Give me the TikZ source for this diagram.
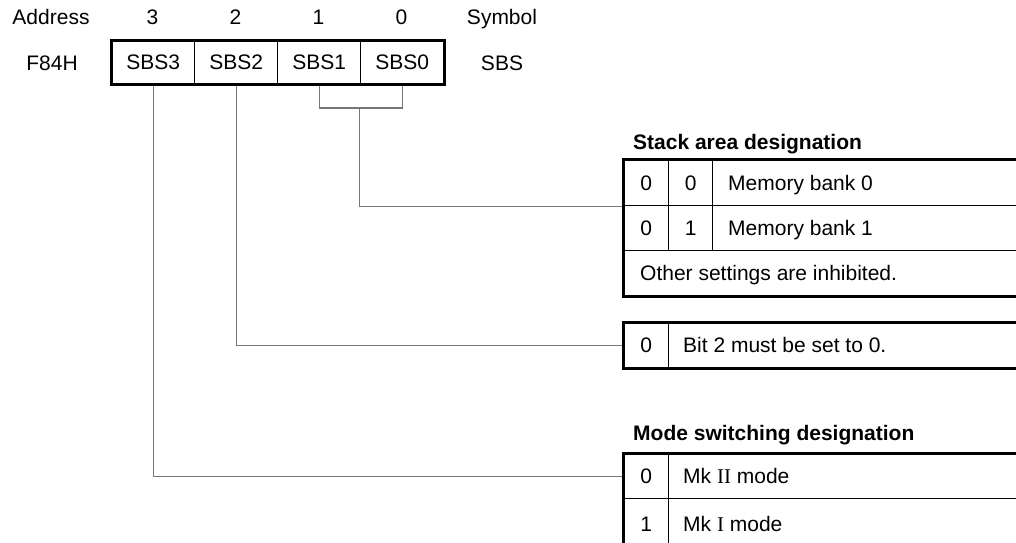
\documentclass[tikz,border=0pt]{standalone}
\usepackage{fontspec}
\setmainfont{Liberation Sans}
\newfontfamily\romanfont{Liberation Serif}
\definecolor{conncol}{RGB}{118,118,118}
\tikzset{
  txt/.style={font=\fontsize{21}{25}\selectfont, inner sep=0pt, text height=15pt, text depth=0pt},
  ttl/.style={txt, font=\fontsize{21}{25}\selectfont\bfseries, anchor=west},
  lft/.style={txt, anchor=west},
  cell/.style={draw=black, line width=1.3pt, inner sep=0pt, anchor=north west, minimum width=#1},
  outerline/.style={draw=black, line width=3pt},
  conn/.style={draw=conncol, line width=1.3pt}
}
\begin{document}
\begin{tikzpicture}[x=1pt, y=-1pt]
\useasboundingbox (0,0) rectangle (1016,542);
\clip (0,0) rectangle (1016,542);
% header
\node[txt] (addr) at (51,17) {Address};
\node[txt] (n3) at (152.5,17) {3};
\node[txt] (n2) at (235.5,17) {2};
\node[txt] (n1) at (318.5,17) {1};
\node[txt] (n0) at (401.5,17) {0};
\node[txt] (sym) at (502,17) {Symbol};
\node[txt] (adr) at (52,63) {F84H};
\node[txt] (sbs) at (502,63) {SBS};
% register cells
\node[cell=83, minimum height=43, txt] (c3) at (111,40) {SBS3};
\node[cell=83, minimum height=43, txt] (c2) at (194,40) {SBS2};
\node[cell=83, minimum height=43, txt] (c1) at (277,40) {SBS1};
\node[cell=83, minimum height=43, txt] (c0) at (360,40) {SBS0};
% stack area table
\node[ttl] (t1) at (633,142) {Stack area designation};
\node[cell=45, minimum height=46, txt] (s1a) at (623,159) {0};
\node[cell=44, minimum height=46, txt] (s1b) at (668,159) {0};
\node[cell=330, minimum height=46] (s1c) at (712,159) {};
\node[lft] at ([xshift=16pt]s1c.west) {Memory bank 0};
\node[cell=45, minimum height=45, txt] (s2a) at (623,205) {0};
\node[cell=44, minimum height=45, txt] (s2b) at (668,205) {1};
\node[cell=330, minimum height=45] (s2c) at (712,205) {};
\node[lft] at ([xshift=16pt]s2c.west) {Memory bank 1};
\node[cell=419, minimum height=45] (s3) at (623,250) {};
\node[lft] at ([xshift=17pt]s3.west) {Other settings are inhibited.};
% bit 2 table
\node[cell=45, minimum height=45, txt] (b0a) at (623,322) {0};
\node[cell=374, minimum height=45] (b0b) at (668,322) {};
\node[lft] at ([xshift=15pt]b0b.west) {Bit 2 must be set to 0.};
% mode table
\node[ttl] (t3) at (633,433) {Mode switching designation};
\node[cell=45, minimum height=45, txt] (m0a) at (623,453) {0};
\node[cell=374, minimum height=45] (m0b) at (668,453) {};
\node[lft] at ([xshift=15pt]m0b.west) {Mk {\romanfont II} mode};
\node[cell=45, minimum height=50, txt] (m1a) at (623,498) {1};
\node[cell=374, minimum height=50] (m1b) at (668,498) {};
\node[lft] at ([xshift=15pt]m1b.west) {Mk {\romanfont I} mode};
% connectors
\coordinate (sj) at (359.5,108);
\draw[conn] (c3.south) |- (m0a.west);
\draw[conn] (c2.south) |- (b0a.west);
\draw[conn] (c1.south) |- (sj) -| (c0.south);
\draw[conn] (sj) |- (s1a.south west);
% thick borders
\draw[outerline] (s1c.north east) -| (s3.south west) -- (s3.south east);
\draw[outerline] (b0b.north east) -| (b0a.south west) -- (b0b.south east);
\draw[outerline] (m0b.north east) -| (m1a.south west);
\draw[outerline] (c3.north west) rectangle (c0.south east);
\end{tikzpicture}
\end{document}
